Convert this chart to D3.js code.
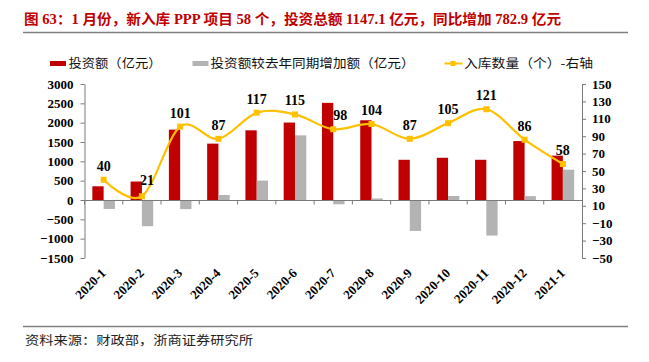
<!DOCTYPE html>
<html>
<head>
<meta charset="utf-8">
<script src="https://cdn.jsdelivr.net/npm/d3@7"></script>
<style>
  body { margin: 0; background: #fff; }
  svg { display: block; }
  .tickTxt text { font-family: "Liberation Serif", "Times New Roman", serif; font-weight: bold; font-size: 13px; fill: #000; }
  .cjk { font-family: "Liberation Serif", "Noto Sans CJK SC", serif; }
</style>
</head>
<body>
<svg id="chart" width="649" height="362"></svg>
<script>
// 数据
var months = ["2020-1","2020-2","2020-3","2020-4","2020-5","2020-6","2020-7","2020-8","2020-9","2020-10","2020-11","2020-12","2021-1"];
var invest = [355, 478, 1820, 1458, 1802, 2003, 2512, 2062, 1040, 1092, 1040, 1524, 1147.1];
var investAdd = [-232, -678, -236, 130, 502, 1672, -110, 40, -800, 104, -920, 100, 782.9];
var projectCount = [40, 21, 101, 87, 117, 115, 98, 104, 87, 105, 121, 86, 58];
var leftTicks = d3.range(-1500, 3001, 500);
var rightTicks = d3.range(-50, 151, 20);

var titleTxt = "图 63：1 月份，新入库 PPP 项目 58 个，投资总额 1147.1 亿元，同比增加 782.9 亿元";
var legendTxt = ["投资额（亿元）", "投资额较去年同期增加额（亿元）", "入库数量（个）-右轴"];
var sourceTxt = "资料来源：财政部，浙商证券研究所";

var red = "#C00000", gray = "#B3B3B3", yellow = "#FFC000", axisColor = "#7a7a7a";

var svg = d3.select("#chart");
svg.append("rect").attr("width", 649).attr("height", 362).attr("fill", "#fff");

// 标题
svg.append("text")
   .attr("class", "cjk")
   .attr("x", 24).attr("y", 24)
   .attr("textLength", 537).attr("lengthAdjust", "spacingAndGlyphs")
   .attr("font-size", 14).attr("font-weight", "bold")
   .attr("fill", red)
   .text(titleTxt);

svg.append("line").attr("x1", 23).attr("x2", 628).attr("y1", 32.5).attr("y2", 32.5)
   .attr("stroke", "#808080").attr("stroke-width", 1.5);
svg.append("line").attr("x1", 23).attr("x2", 628).attr("y1", 326.5).attr("y2", 326.5)
   .attr("stroke", "#808080").attr("stroke-width", 1.5);

svg.append("text")
   .attr("x", 25).attr("y", 345)
   .attr("textLength", 228).attr("lengthAdjust", "spacingAndGlyphs")
   .attr("font-family", "Noto Sans CJK SC").attr("font-size", 12.5).attr("fill", "#222")
   .text(sourceTxt);

// 比例尺
var plotTop = 84, plotBottom = 258, plotLeft = 84.5, plotRight = 582;
var x = d3.scaleBand().domain(months).range([plotLeft, plotRight]).paddingInner(0).paddingOuter(0);
var yL = d3.scaleLinear().domain([-1500, 3000]).range([plotBottom, plotTop]);
var yR = d3.scaleLinear().domain([-50, 150]).range([plotBottom, plotTop]);
var bw = x.bandwidth() * 0.295;

// 柱
svg.append("g").selectAll("rect").data(invest).join("rect")
   .attr("x", function(d, i){ return x(months[i]) + x.bandwidth() / 2 - bw; })
   .attr("width", bw)
   .attr("y", function(d){ return Math.min(yL(d), yL(0)); })
   .attr("height", function(d){ return Math.abs(yL(d) - yL(0)); })
   .attr("fill", red);

svg.append("g").selectAll("rect").data(investAdd).join("rect")
   .attr("x", function(d, i){ return x(months[i]) + x.bandwidth() / 2; })
   .attr("width", bw)
   .attr("y", function(d){ return Math.min(yL(d), yL(0)); })
   .attr("height", function(d){ return Math.abs(yL(d) - yL(0)); })
   .attr("fill", gray);

// 坐标轴
var axL = svg.append("g").attr("class", "tickTxt")
   .attr("transform", "translate(" + plotLeft + ",0)")
   .call(d3.axisLeft(yL).tickValues(leftTicks).tickSize(4).tickPadding(7).tickSizeOuter(0).tickFormat(d3.format("d")));
var axR = svg.append("g").attr("class", "tickTxt")
   .attr("transform", "translate(" + plotRight + ",0)")
   .call(d3.axisRight(yR).tickValues(rightTicks).tickSize(4).tickPadding(6).tickSizeOuter(0).tickFormat(d3.format("d")));
[axL, axR].forEach(function(a){
	a.selectAll("line, path").attr("stroke", axisColor);
});

var y0 = Math.round(yL(0)) + 0.5;
svg.append("line").attr("x1", plotLeft).attr("x2", plotRight).attr("y1", y0).attr("y2", y0)
   .attr("stroke", axisColor);
svg.append("g").selectAll("line").data(months).join("line")
   .attr("x1", function(d){ return x(d); })
   .attr("x2", function(d){ return x(d); })
   .attr("y1", y0).attr("y2", y0 + 4)
   .attr("stroke", axisColor);

// x 标签
svg.append("g").attr("class", "tickTxt").selectAll("text").data(months).join("text")
   .attr("text-anchor", "end")
   .attr("transform", function(d){
	   return "translate(" + (x(d) + x.bandwidth() / 2 + 3) + ",274) rotate(-45)";
   })
   .text(function(d){ return d; });

// 折线
var line = d3.line()
	.x(function(d, i){ return x(months[i]) + x.bandwidth() / 2; })
	.y(function(d){ return yR(d); })
	.curve(d3.curveCardinal.tension(0));

svg.append("path").attr("d", line(projectCount))
   .attr("fill", "none").attr("stroke", yellow).attr("stroke-width", 2.2);

svg.append("g").selectAll("rect").data(projectCount).join("rect")
   .attr("x", function(d, i){ return x(months[i]) + x.bandwidth() / 2 - 3; })
   .attr("y", function(d){ return yR(d) - 3; })
   .attr("width", 6).attr("height", 6)
   .attr("fill", yellow);

// 数据标签 (少数标签被挪开避让柱子)
var labelShift = { "2020-2": [5, -2], "2020-7": [7, 0] };
svg.append("g").attr("class", "tickTxt").selectAll("text").data(projectCount).join("text")
   .attr("text-anchor", "middle")
   .attr("x", function(d, i){
	   var s = labelShift[months[i]];
	   return x(months[i]) + x.bandwidth() / 2 + (s ? s[0] : 0);
   })
   .attr("y", function(d, i){
	   var s = labelShift[months[i]];
	   return yR(d) - 9 + (s ? s[1] : 0);
   })
   .style("font-size", "14px")
   .text(function(d){ return d; });

// 图例
var lg = svg.append("g");
lg.append("rect").attr("x", 50).attr("y", 61).attr("width", 16).attr("height", 5).attr("fill", red);
lg.append("rect").attr("x", 192.5).attr("y", 61).attr("width", 16).attr("height", 5).attr("fill", gray);
lg.append("line").attr("x1", 444.5).attr("x2", 462.5).attr("y1", 63.5).attr("y2", 63.5)
  .attr("stroke", yellow).attr("stroke-width", 2);
lg.append("rect").attr("x", 450.5).attr("y", 61).attr("width", 5).attr("height", 5).attr("fill", yellow);

var legendPos = [[68.5, 93], [210.5, 204], [464, 129]];
legendTxt.forEach(function(t, i){
	lg.append("text")
	  .attr("x", legendPos[i][0]).attr("y", 68)
	  .attr("textLength", legendPos[i][1]).attr("lengthAdjust", "spacingAndGlyphs")
	  .attr("font-family", "Noto Sans CJK SC").attr("font-size", 12.5).attr("fill", "#111")
	  .text(t);
});
</script>
</body>
</html>
